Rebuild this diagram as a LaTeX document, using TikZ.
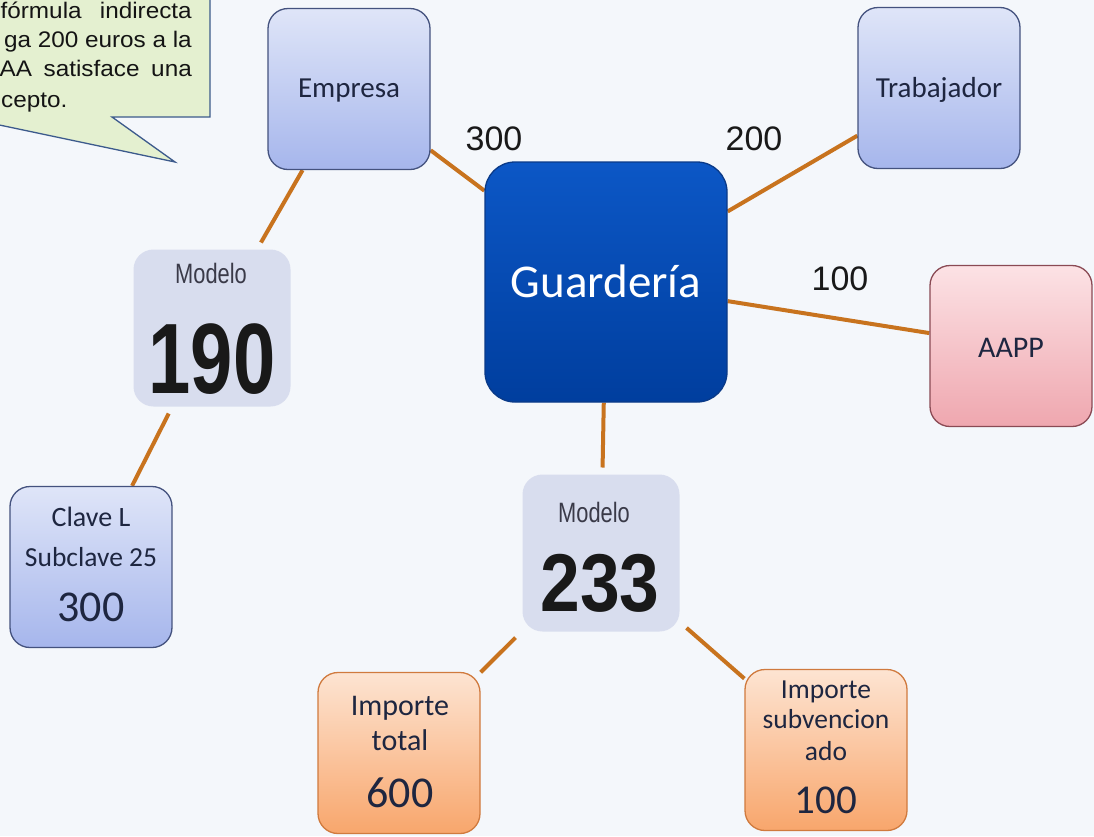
\documentclass[tikz,border=0pt]{standalone}
\usepackage{fontspec}
\setmainfont{Liberation Sans}
\newfontfamily\calfont{Carlito}
\usetikzlibrary{calc,backgrounds}
\definecolor{bgc}{HTML}{F4F7FB}
\definecolor{conn}{HTML}{C8731E}
\definecolor{bluetop}{HTML}{DFE5F8}
\definecolor{bluebot}{HTML}{A6B6EC}
\definecolor{blueline}{HTML}{44527E}
\definecolor{guardtop}{HTML}{0C57C6}
\definecolor{guardbot}{HTML}{003E9E}
\definecolor{guardline}{HTML}{0A3A88}
\definecolor{pinktop}{HTML}{FCE2E5}
\definecolor{pinkbot}{HTML}{EFA7AF}
\definecolor{pinkline}{HTML}{8A4A54}
\definecolor{orgtop}{HTML}{FDE4D2}
\definecolor{orgbot}{HTML}{F8A66C}
\definecolor{orgline}{HTML}{D07A3E}
\definecolor{mdlfill}{HTML}{D8DDEE}
\definecolor{callfill}{HTML}{E4F0D0}
\definecolor{callline}{HTML}{3C5A8C}
\definecolor{boxtext}{HTML}{1E2640}
\definecolor{mdltext}{HTML}{3A3A48}
\tikzset{
  box/.style={rounded corners=20pt, inner sep=0pt, minimum width=162pt, minimum height=161pt, line width=1.3pt},
  bluebox/.style={box, draw=blueline, top color=bluetop, bottom color=bluebot},
  pinkbox/.style={box, draw=pinkline, top color=pinktop, bottom color=pinkbot},
  orgbox/.style={box, draw=orgline, top color=orgtop, bottom color=orgbot},
  guardbox/.style={rounded corners=30pt, inner sep=0pt, minimum width=242pt, minimum height=240pt, line width=1.3pt, draw=guardline, top color=guardtop, bottom color=guardbot},
  mdlbox/.style={rounded corners=20pt, inner sep=0pt, minimum width=157pt, minimum height=157pt, fill=mdlfill, outer sep=7pt},
  conline/.style={draw=conn, line width=4pt},
  lbl/.style={anchor=base, inner sep=0pt, text=boxtext, font=\calfont\fontsize{29}{34}\selectfont},
  elbl/.style={anchor=base, inner sep=0pt, text=black!90, font=\fontsize{34}{40}\selectfont},
  ctext/.style={inner sep=0pt, text=black!92, font=\fontsize{22.5}{26}\selectfont},
  mdltxt/.style={anchor=base, inner sep=0pt, text=mdltext, font=\fontsize{28}{32}\selectfont},
  mdlnum/.style={anchor=base, inner sep=0pt, text=black!90, font=\bfseries\fontsize{100}{100}\selectfont},
}
\begin{document}
\begin{tikzpicture}[x=1pt,y=-1pt]
\useasboundingbox (0,0) rectangle (1094,836);
\begin{pgfonlayer}{background}
\fill[bgc] (0,0) rectangle (1094,836);
\end{pgfonlayer}

% callout
\filldraw[fill=callfill, draw=callline, line width=1.3pt]
  (-10,-10) -- (210,-10) -- (210,117) -- (112,117) -- (175,162) -- (-10,123) -- cycle;
\node[ctext, anchor=base east] (c1) at (192,18) {\scalebox{1.08}[1]{\makebox[177pt][s]{fórmula indirecta}}};
\node[ctext, anchor=base east] (c2) at (192,47) {\scalebox{1.08}[1]{ga 200 euros a la}};
\node[ctext, anchor=base east] (c3) at (192,76) {\scalebox{1.08}[1]{\makebox[178pt][s]{AA satisface una}}};
\node[ctext, anchor=base west] (c4) at (1,107) {\scalebox{1.08}[1]{cepto.}};

% boxes
\node[bluebox] (empresa) at (349,89) {};
\node[bluebox] (trab) at (939,88) {};
\node[guardbox] (guard) at (606,282) {};
\node[pinkbox] (aapp) at (1011,346) {};
\node[mdlbox] (m190) at (212,328) {};
\node[mdlbox] (m233) at (601,553) {};
\node[bluebox] (clave) at (91,567) {};
\node[orgbox] (itotal) at (399,753) {};
\node[orgbox] (isub) at (826,750) {};

% labels
\node[lbl] (empresaT) at (349,97) {Empresa};
\node[lbl] (trabT) at (939,97) {Trabajador};
\node[lbl, text=white, font=\calfont\fontsize{47}{52}\selectfont] (guardT) at (606,297) {Guardería};
\node[lbl, font=\calfont\fontsize{30}{34}\selectfont] (aappT) at (1011,357) {AAPP};

\node[mdltxt] (m190a) at (211,283) {\scalebox{0.78}[1]{Modelo}};
\node[mdlnum] (m190b) at (212,393) {\scalebox{0.76}[1]{190}};
\node[mdltxt] (m233a) at (594,522) {\scalebox{0.78}[1]{Modelo}};
\node[mdlnum, font=\bfseries\fontsize{82}{82}\selectfont] (m233b) at (600,611) {\scalebox{0.87}[1]{233}};

\node[lbl, font=\calfont\fontsize{28}{32}\selectfont] (claveA) at (91,526) {Clave L};
\node[lbl, font=\calfont\fontsize{27.5}{32}\selectfont] (claveB) at (91,566) {Subclave 25};
\node[lbl, font=\calfont\fontsize{44}{48}\selectfont] (claveC) at (91,621) {300};

\node[lbl, font=\calfont\fontsize{30}{34}\selectfont] (itA) at (400,715) {Importe};
\node[lbl, font=\calfont\fontsize{30}{34}\selectfont] (itB) at (400,750) {total};
\node[lbl, font=\calfont\fontsize{44}{48}\selectfont] (itC) at (400,807) {600};

\node[lbl, font=\calfont\fontsize{27.5}{32}\selectfont] (isA) at (826,698) {Importe};
\node[lbl, font=\calfont\fontsize{27.5}{32}\selectfont] (isB) at (826,728) {subvencion};
\node[lbl, font=\calfont\fontsize{27.5}{32}\selectfont] (isC) at (826,760) {ado};
\node[lbl, font=\calfont\fontsize{41}{45}\selectfont] (isD) at (826,813) {100};

% edge labels
\node[elbl] (e300) at (494,150) {300};
\node[elbl] (e200) at (754,150) {200};
\node[elbl] (e100) at (840,290) {100};

% connectors
\begin{pgfonlayer}{background}
\draw[conline] (empresa) -- (guard);
\draw[conline] (trab) -- (guard);
\draw[conline] (aapp) -- (guard);
\draw[conline] (guard) -- (m233);
\draw[conline] (empresa) -- (m190);
\draw[conline] (m190) -- (clave);
\draw[conline] (m233) -- (itotal);
\draw[conline] (m233) -- (isub);
\end{pgfonlayer}
\end{tikzpicture}
\end{document}
